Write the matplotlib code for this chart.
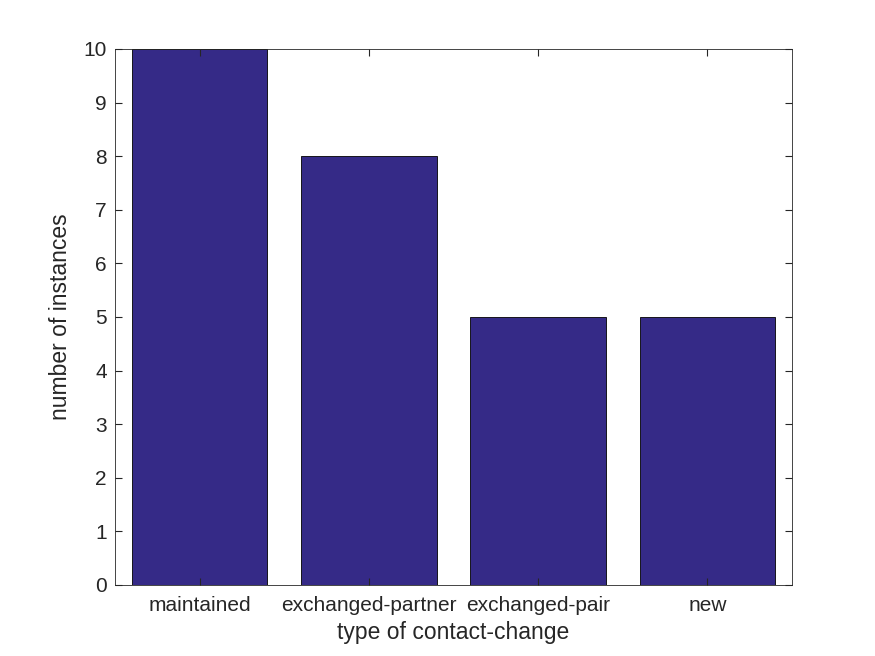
import matplotlib
matplotlib.use('Agg')
import matplotlib.pyplot as plt

categories = ['maintained', 'exchanged-partner', 'exchanged-pair', 'new']
counts = [10, 8, 5, 5]

plt.rcParams['font.family'] = ['Liberation Sans', 'DejaVu Sans']

fig = plt.figure(figsize=(8.75, 6.56), dpi=100)
ax = fig.add_axes([115 / 875, 1 - 585 / 656, 677 / 875, 536 / 656])

x = list(range(1, len(categories) + 1))
ax.bar(x, counts, width=0.8, color='#352a87', edgecolor='black', linewidth=0.6)

ax.set_xlim(0.5, 4.5)
ax.set_ylim(0, 10)
ax.set_xticks(x)
ax.set_xticklabels(categories)
ax.set_yticks(range(0, 11))
ax.tick_params(direction='in', top=True, right=True, labelsize=15, colors='#262626', length=5)
ax.tick_params(axis='x', pad=8)
ax.tick_params(axis='y', pad=6)
for s in ax.spines.values():
    s.set_color('#262626')
    s.set_linewidth(0.6)

ax.set_xlabel('type of contact-change', fontsize=16.5, color='#262626', labelpad=4)
ax.set_ylabel('number of instances', fontsize=16.5, color='#262626', labelpad=8)

fig.savefig('out.png', dpi=100)
